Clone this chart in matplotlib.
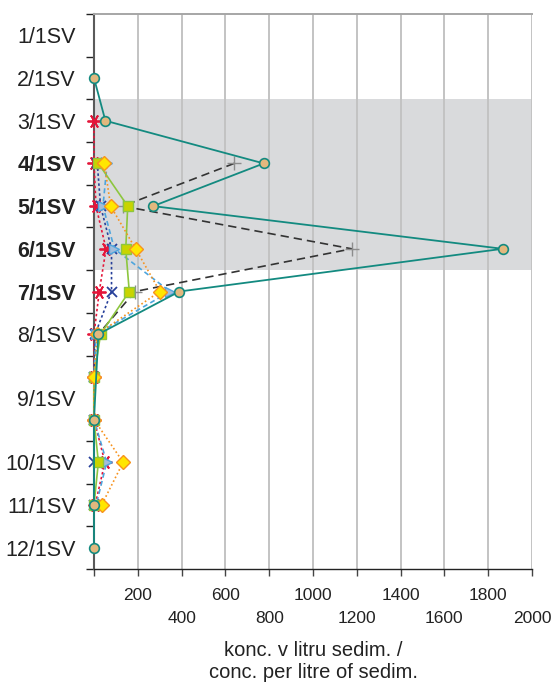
import matplotlib
matplotlib.use("Agg")
import matplotlib.pyplot as plt
import numpy as np

plt.rcParams['font.family'] = ['Liberation Sans', 'DejaVu Sans']

# Sediment samples (top to bottom); 9/1SV was measured in two sub-layers
categories = ["1/1SV", "2/1SV", "3/1SV", "4/1SV", "5/1SV", "6/1SV",
              "7/1SV", "8/1SV", "9/1SV", "10/1SV", "11/1SV", "12/1SV"]
rows_per_category = [1, 1, 1, 1, 1, 1, 1, 1, 2, 1, 1, 1]
bold_categories = ["4/1SV", "5/1SV", "6/1SV", "7/1SV"]
shaded_from, shaded_to = "3/1SV", "6/1SV"

x_ticks = [0, 200, 400, 600, 800, 1000, 1200, 1400, 1600, 1800, 2000]
x_tick_labels = ["", "200", "400", "600", "800", "1000",
                 "1200", "1400", "1600", "1800", "2000"]

# Concentration per litre of sediment, one value per sample row (13 rows)
teal_vals = [None, 0, 52, 775, 270, 1866, 390, 20, None, 0, None, 0, 0]
black_vals = [None, None, None, 640, 131, 1177, 187, 20, None, None, None, None, None]
green_vals = [None, None, None, 20, 154, 145, 161, 30, 0, 0, 20, 0, None]
orange_vals = [None, None, None, 47, 76, 190, 301, 15, 0, 0, 133, 35, None]
lightblue_vals = [None, None, None, 60, 41, 93, 347, 10, 0, 0, 58, 10, None]
darkblue_vals = [None, None, None, 15, 30, 80, 80, 5, 0, 0, 0, 0, None]
red_vals = [None, None, 0, 0, 9, 55, 24, 0, 0, 0, 50, 5, None]

# row positions: each sample row occupies one unit
n_rows = sum(rows_per_category)
row_pos = np.arange(n_rows)
starts = np.concatenate([[0], np.cumsum(rows_per_category)[:-1]])
cat_centers = [s + (n - 1) / 2 for s, n in zip(starts, rows_per_category)]
cat_bounds = [s - 0.5 for s in starts] + [n_rows - 0.5]

W, H = 556, 682
fig = plt.figure(figsize=(W / 100, H / 100), dpi=100)
ax = fig.add_axes([94 / W, 1 - 569 / H, (532 - 94) / W, (569 - 14) / H])

ax.set_xlim(0, 2000)
ax.set_ylim(n_rows - 0.5, -0.5)

# highlighted layers
i0 = categories.index(shaded_from)
i1 = categories.index(shaded_to)
ax.axhspan(starts[i0] - 0.5, starts[i1] + rows_per_category[i1] - 0.5,
           color='#d9dadc', zorder=0.2, lw=0)

for xv in x_ticks[1:]:
    ax.axvline(xv, color='#c3c3c3', lw=1.4, zorder=0.5)


def draw(vals, **kw):
    y = [p for p, v in zip(row_pos, vals) if v is not None]
    x = [v for v in vals if v is not None]
    ax.plot(x, y, clip_on=False, **kw)


draw(red_vals, color='#e4163a', ls=(0, (1.5, 1.5)), lw=1.2,
     marker=(6, 2, 90), mec='#e4163a', ms=10, mew=1.3, zorder=3)
draw(darkblue_vals, color='#27409a', ls=(0, (1.5, 1.5)), lw=1.2,
     marker='x', mec='#27409a', ms=7.5, mew=1.3, zorder=3.1)
draw(lightblue_vals, color='#4ea5dd', ls=(0, (3, 2)), lw=1.2,
     marker='>', mfc='#a3bcd9', mec='#4ea5dd', ms=7.5, mew=1, zorder=3.2)
draw(black_vals, color='#333333', ls=(0, (5, 3)), lw=1.2,
     marker='+', mec='#8c8c8c', ms=10, mew=1, zorder=3.3)
draw(green_vals, color='#8dc63f', lw=1.2,
     marker='s', mfc='#c9d400', mec='#8dc63f', ms=7.5, mew=1, zorder=3.4)
draw(orange_vals, color='#f7931e', ls=(0, (1, 1.5)), lw=1.2,
     marker='D', mfc='#ffe600', mec='#f7931e', ms=7, mew=1, zorder=3.5)
draw(teal_vals, color='#138a80', lw=1.3,
     marker='o', mfc='#e2b87e', mec='#138a80', ms=7, mew=1.2, zorder=3.6)

# axes frame
ax.spines['right'].set_visible(False)
ax.spines['top'].set_color('#a6a6a6')
ax.spines['top'].set_linewidth(1.4)
ax.spines['left'].set_color('#5a5a5a')
ax.spines['left'].set_linewidth(1.5)
ax.spines['bottom'].set_color('#222222')
ax.spines['bottom'].set_linewidth(1.0)

# x ticks with staggered labels
ax.set_xticks(x_ticks)
stag = [lab if i % 2 == 1 else "\n" + lab if lab else "" for i, lab in enumerate(x_tick_labels)]
ax.set_xticklabels(stag, fontsize=12.5, color='#222222', linespacing=1.6)
ax.tick_params(axis='x', direction='out', length=5, width=1, color='#444444', pad=9)

# y ticks: marks at layer boundaries, labels at layer centres
ax.set_yticks(cat_centers)
ax.set_yticklabels(categories, fontsize=15.5, color='#222222')
ax.tick_params(axis='y', which='major', length=0, pad=13)
ax.set_yticks(cat_bounds, minor=True)
ax.tick_params(axis='y', which='minor', direction='out', length=6, width=1, color='#222222')
for lab in ax.get_yticklabels():
    if lab.get_text() in bold_categories:
        lab.set_fontweight('bold')

fig.text(313 / W, 1 - 650 / H, "konc. v litru sedim. /", ha='center', va='center',
         fontsize=14.5, color='#222222')
fig.text(313 / W, 1 - 673 / H, "conc. per litre of sedim.", ha='center', va='center',
         fontsize=14.5, color='#222222')

fig.savefig("out.png", dpi=100)
